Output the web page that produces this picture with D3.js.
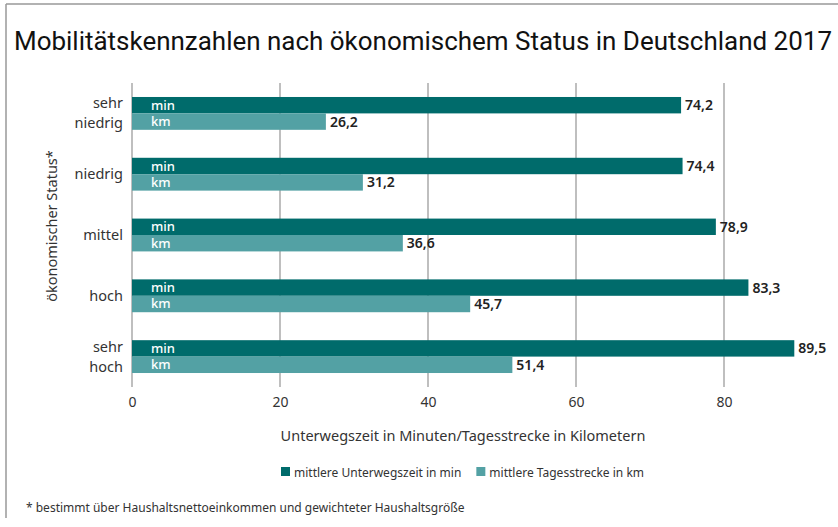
<!DOCTYPE html>
<html>
<head>
<meta charset="utf-8">
<script src="https://cdn.jsdelivr.net/npm/d3@7"></script>
<style>
  body { margin: 0; background: #fff; }
  text { font-family: "Noto Sans", "Open Sans", sans-serif; }
</style>
</head>
<body>
<div id="chart"></div>
<script>
// Mobilitätskennzahlen nach ökonomischem Status, 2017
const categories = [["sehr", "niedrig"], ["niedrig"], ["mittel"], ["hoch"], ["sehr", "hoch"]];
const minutes    = [74.2, 74.4, 78.9, 83.3, 89.5];
const kilometers = [26.2, 31.2, 36.6, 45.7, 51.4];
const xTicks     = [0, 20, 40, 60, 80];
const seriesNames = ["mittlere Unterwegszeit in min", "mittlere Tagesstrecke in km"];
const seriesShort = ["min", "km"];

const width = 838, height = 527;
const DARK = "#006b6b", LIGHT = "#53a1a4", TXT = "#333";

const svg = d3.select("#chart").append("svg")
  .attr("width", width).attr("height", height);

// frame lines (top + left)
svg.append("line").attr("x1", 6).attr("x2", width).attr("y1", 4).attr("y2", 4)
  .attr("stroke", "#999").attr("stroke-width", 1.5);
svg.append("line").attr("x1", 6).attr("x2", 6).attr("y1", 4).attr("y2", 518)
  .attr("stroke", "#999").attr("stroke-width", 1.5);

// title
const title = svg.append("text")
  .attr("x", 14).attr("y", 50)
  .style("font-family", "Roboto, sans-serif")
  .style("font-size", "26px")
  .style("fill", "#111")
  .text("Mobilitätskennzahlen nach ökonomischem Status in Deutschland 2017");
if (title.node().getComputedTextLength() > 818) {
  title.attr("textLength", 818).attr("lengthAdjust", "spacingAndGlyphs");
}

const x = d3.scaleLinear().domain([0, 80]).range([132, 724]);
const y = d3.scaleBand().domain(d3.range(categories.length))
  .range([83, 387]).paddingInner(0.46).paddingOuter(0.23);
const sub = d3.scaleBand().domain([0, 1]).range([0, y.bandwidth()]);

// grid lines
svg.append("g").selectAll("line").data(xTicks).join("line")
  .attr("x1", d => x(d)).attr("x2", d => x(d))
  .attr("y1", 83).attr("y2", 387)
  .attr("stroke", "#aaa").attr("stroke-width", 1.5);

// x axis labels
const xAxis = svg.append("g")
  .attr("transform", "translate(0,387)")
  .call(d3.axisBottom(x).tickValues(xTicks).tickSize(0).tickPadding(10));
xAxis.select(".domain").remove();
xAxis.selectAll("text").style("font-size", "14px").style("fill", TXT)
  .style("font-family", "'Noto Sans', sans-serif");

// bars
const groups = svg.append("g").selectAll("g").data(categories).join("g")
  .attr("transform", (d, i) => `translate(0,${y(i)})`);

const rows = (i) => [minutes[i], kilometers[i]];

groups.each(function(cat, i) {
  const g = d3.select(this);
  rows(i).forEach((v, s) => {
    g.append("rect")
      .attr("x", x(0)).attr("y", sub(s))
      .attr("width", x(v) - x(0)).attr("height", sub.bandwidth())
      .attr("fill", s === 0 ? DARK : LIGHT);
    g.append("text")
      .attr("x", x(0) + 19).attr("y", sub(s) + sub.bandwidth() / 2 + 4.5)
      .style("font-size", "13px").style("font-weight", "500").style("fill", "#fff")
      .text(seriesShort[s]);
    g.append("text")
      .attr("x", x(v) + 4).attr("y", sub(s) + sub.bandwidth() / 2 + 5)
      .style("font-size", "14px").style("font-weight", "600").style("fill", "#222")
      .text(d3.format(".1f")(v).replace(".", ","));
  });
  // category label
  const cy = y.bandwidth() / 2;
  const lines = cat;
  const t = g.append("text")
    .attr("text-anchor", "end")
    .style("font-size", "14.5px").style("fill", TXT);
  lines.forEach((ln, k) => {
    t.append("tspan")
      .attr("x", 123)
      .attr("y", cy + 5 + (k - (lines.length - 1) / 2) * 20)
      .text(ln);
  });
});

// y axis title
svg.append("text")
  .attr("transform", `translate(57,226) rotate(-90)`)
  .attr("text-anchor", "middle")
  .style("font-size", "14.5px").style("fill", TXT)
  .text("ökonomischer Status*");

// x axis title
svg.append("text")
  .attr("x", 463).attr("y", 441)
  .attr("text-anchor", "middle")
  .style("font-size", "14.5px").style("fill", TXT)
  .text("Unterwegszeit in Minuten/Tagesstrecke in Kilometern");

// legend
const legend = svg.append("g").attr("transform", "translate(281,467)");
let lx = 0;
seriesNames.forEach((name, s) => {
  const item = legend.append("g").attr("transform", `translate(${lx},0)`);
  item.append("rect").attr("width", 9).attr("height", 9)
    .attr("fill", s === 0 ? DARK : LIGHT);
  const tx = item.append("text").attr("x", 13).attr("y", 9.5)
    .style("font-size", "12px").style("fill", TXT).text(name);
  lx += 13 + tx.node().getComputedTextLength() + 15;
});

// footnote
svg.append("text")
  .attr("x", 26).attr("y", 512)
  .style("font-size", "12px").style("fill", TXT)
  .text("* bestimmt über Haushaltsnettoeinkommen und gewichteter Haushaltsgröße");
</script>
</body>
</html>
